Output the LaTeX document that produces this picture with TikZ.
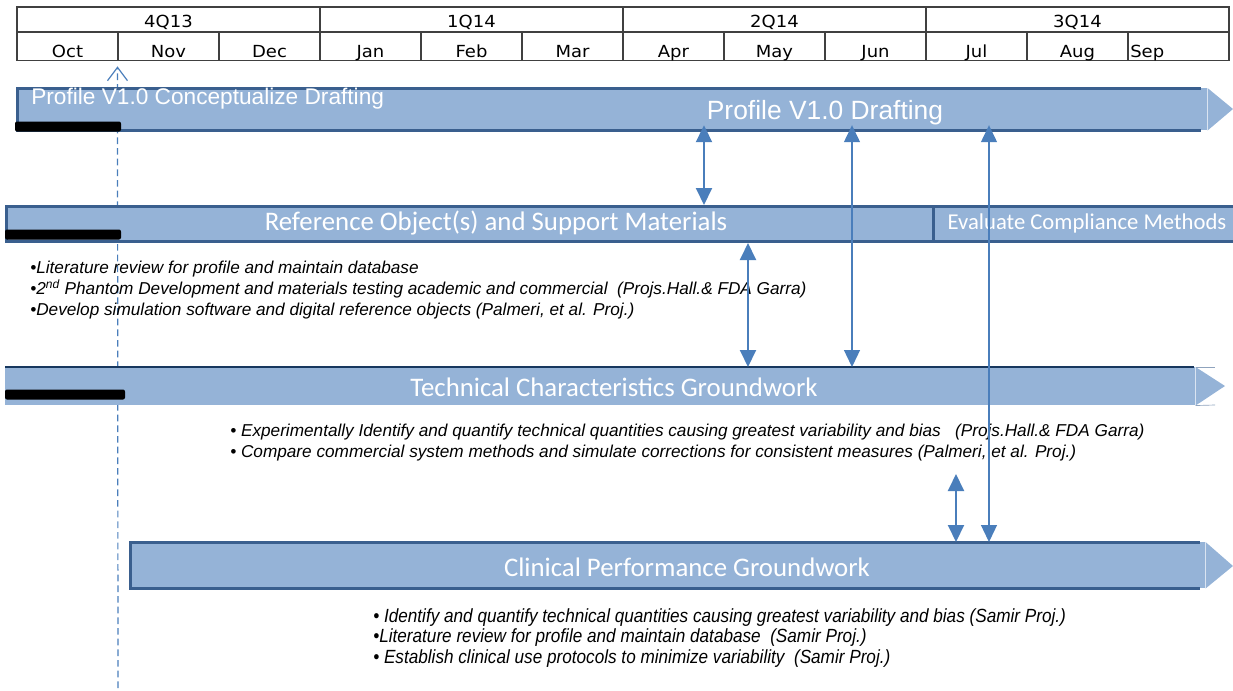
\documentclass[tikz,border=0pt]{standalone}
\usepackage{fontspec}
\setmainfont{Liberation Sans}
\newfontfamily\verdana[FakeStretch=1.08]{DejaVu Sans}
\newfontfamily\calibri{Carlito}
\newfontfamily\narrowsans[FakeStretch=0.9]{Liberation Sans}
\usetikzlibrary{arrows.meta}
\definecolor{barfill}{HTML}{95B3D7}
\definecolor{barline}{HTML}{3A5F8E}
\definecolor{navyline}{HTML}{17375E}
\definecolor{linkblue}{HTML}{4A7EBB}
\definecolor{gridline}{HTML}{404040}
\tikzset{
    qcell/.style = {draw = gridline, line width = 0.8pt, minimum width = 227.25pt, minimum height = 18.75pt, inner sep = 0pt},
    mcell/.style = {draw = gridline, line width = 0.8pt, minimum width = 75.75pt, minimum height = 21pt, inner sep = 0pt},
    hdr/.style = {font = \verdana\fontsize{12.5}{14}\selectfont, anchor = base, inner sep = 0pt},
    bar/.style = {fill = barfill, anchor = north west, inner sep = 0pt},
    bartxt/.style = {text = white, font = \calibri\fontsize{20.1}{22}\selectfont, inner sep = 0pt},
    note/.style = {font = \itshape\fontsize{12.9}{15.75}\selectfont, anchor = west, inner sep = 0pt, align = left},
    donebar/.style = {fill = black, rounded corners = 1.5pt},
    nowline/.style = {linkblue, line width = 0.9pt, dash pattern = on 5pt off 3pt, -{Straight Barb[length = 10pt, width = 15pt]}},
    link/.style = {linkblue, line width = 1.5pt, {Triangle[length = 12.75pt, width = 12pt]}-{Triangle[length = 12.75pt, width = 12pt]}},
    thinlink/.style = {link, line width = 1pt},
}
\begin{document}
\begin{tikzpicture}[x = 0.75pt, y = -0.75pt]
        \useasboundingbox (0, 0) rectangle (1233, 690);
        \foreach \q [count = \j] in {4Q13, 1Q14, 2Q14, 3Q14}
            {
                \node[qcell] (q\j) at ({17 + 303*(\j - 0.5)}, 19.5) {};
                \node[hdr] (ql\j) at ({17 + 303*(\j - 0.5)}, 27) {\q};
            }
        \foreach \m [count = \i] in {Oct, Nov, Dec, Jan, Feb, Mar, Apr, May, Jun, Jul, Aug, Sep}
            {
                \node[mcell] (m\i) at ({17 + 101*(\i - 0.5)}, 46.5) {};
            }
        \foreach \m [count = \i] in {Oct, Nov, Dec, Jan, Feb, Mar, Apr, May, Jun, Jul, Aug}
            {
                \node[hdr] (ml\i) at ({17 + 101*(\i - 0.5)}, 57) {\m};
            }
        \node[hdr, anchor = base west] (ml12) at (1130, 57) {Sep};
        \coordinate (nowend) at (118, 688);
        \draw[nowline, shorten >= 4pt] (nowend) -- (m2.south west);
        \node[bar, minimum width = 892.5pt, minimum height = 31.5pt] (prof) at (17, 88) {};
        \fill[barfill] (prof.north east) -- (1233, 109) -- (prof.south east) -- cycle;
        \draw[barline, line width = 2.25pt] ([xshift = -5pt]prof.north east) -- (prof.north west) -- (prof.south west) -- ([xshift = -5pt]prof.south east);
        \node[text = white, font = \fontsize{17}{19}\selectfont, anchor = west, inner sep = 0pt] (conc) at (31, 99) {Profile V1.0 Conceptualize Drafting};
        \node[text = white, font = \fontsize{19.8}{22}\selectfont, inner sep = 0pt] (draft) at (825, 113) {Profile V1.0 Drafting};
        \fill[donebar] (15, 121.5) rectangle (121, 131.5);
        \node[bar, draw = barline, line width = 2.25pt, minimum width = 695.25pt, minimum height = 26.25pt] (refobj) at (5, 205) {};
        \node[bar, draw = barline, line width = 2.25pt, minimum width = 225.75pt, minimum height = 26.25pt] (evalcm) at (932, 205) {};
        \node[bartxt] (reftxt) at (496, 223) {Reference Object(s) and Support Materials};
        \node[bartxt, font = \calibri\fontsize{17}{20}\selectfont] (evaltxt) at (1087, 223) {Evaluate Compliance Methods};
        \fill[donebar] (5, 229.5) rectangle (121, 239.5);
        \node[note] (refnotes) at (30, 290) {%
            •Literature review for profile and maintain database\\
            •2\textsuperscript{nd} Phantom Development and materials testing academic and commercial\ \ (Projs.Hall.\& FDA Garra)\\
            •Develop simulation software and digital reference objects (Palmeri, et al. Proj.)};
        \node[bar, minimum width = 892.5pt, minimum height = 28.5pt] (techchar) at (5, 367) {};
        \fill[barfill] (techchar.north east) -- (1225, 386) -- (techchar.south east) -- cycle;
        \draw[barfill!70!gray, line width = 0.5pt] (techchar.north east) -- (1215, 367);
        \draw[barfill!70!gray, line width = 0.5pt] (techchar.south east) -- (1215, 405);
        \draw[navyline, line width = 1.5pt] (techchar.north west) -- ([xshift = -1pt]techchar.north east);
        \node[bartxt] (techtxt) at (614, 387) {Technical Characteristics Groundwork};
        \fill[donebar] (5, 389.5) rectangle (125, 399.5);
        \node[note] (technotes) at (230, 442.5) {%
            • Experimentally Identify and quantify technical quantities causing greatest variability and bias\ \ \ (Projs.Hall.\& FDA Garra)\\
            • Compare commercial system methods and simulate corrections for consistent measures (Palmeri, et al. Proj.)};
        \node[bar, minimum width = 806.25pt, minimum height = 34.5pt] (clinic) at (130, 542) {};
        \fill[barfill] (clinic.north east) -- (1233, 566) -- (clinic.south east) -- cycle;
        \draw[barline, line width = 2.25pt] ([xshift = -4pt]clinic.north east) -- (clinic.north west) -- (clinic.south west) -- ([xshift = -4pt]clinic.south east);
        \node[bartxt] (clintxt) at (687, 567) {Clinical Performance Groundwork};
        \node[note, font = \narrowsans\itshape\fontsize{14.3}{15.3}\selectfont] (clinnotes) at (373, 638) {%
            • Identify and quantify technical quantities causing greatest variability and bias (Samir Proj.)\\
            •Literature review for profile and maintain database\ \ (Samir Proj.)\\
            • Establish clinical use protocols to minimize variability\ \ (Samir Proj.)};
        \draw[link, shorten <= -4pt] (704, 0 |- prof.south) -- (704, 0 |- refobj.north);
        \draw[thinlink, shorten <= -4pt] (852, 0 |- prof.south) -- (852, 0 |- techchar.north);
        \draw[thinlink, shorten <= -4pt] (989, 0 |- prof.south) -- (989, 0 |- clinic.north);
        \draw[link] (748, 0 |- refobj.south) -- (748, 0 |- techchar.north);
        \coordinate (evaltop) at (956, 474);
        \draw[link] (evaltop) -- (956, 0 |- clinic.north);
    \end{tikzpicture}
\end{document}
